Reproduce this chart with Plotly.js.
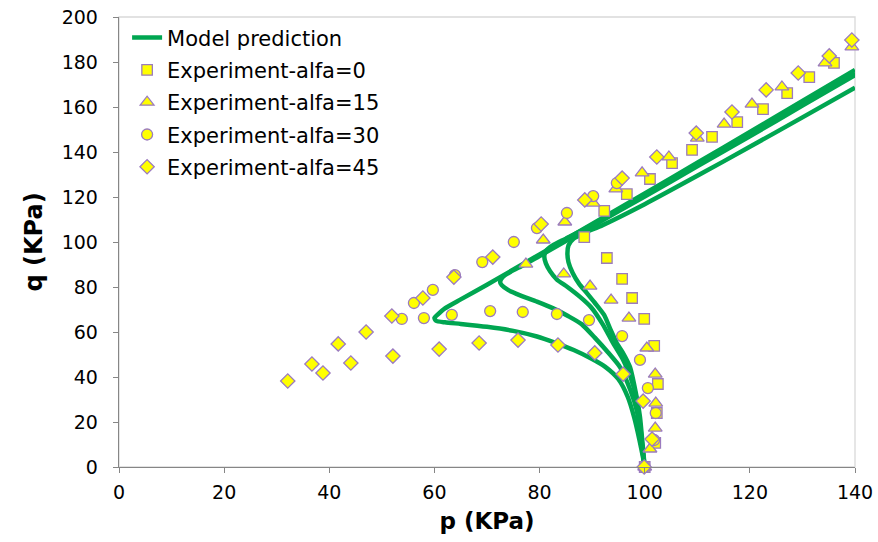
<!DOCTYPE html>
<html>
<head>
<meta charset="utf-8">
<script src="https://cdn.plot.ly/plotly-3.0.1.min.js"></script>
<style>html,body{margin:0;padding:0;background:#fff;}#chart{width:878px;height:542px;}</style>
</head>
<body>
<div id="chart"></div>
<script>
// ---- Model prediction curves (p, q in KPa) ----
const modelA_p = [100,99.7,99,98,96.8,95,92.5,90,86.5,83,79.5,75,70,65,62,60.3,60,60.5,62,65,70,80,90,100,110,120,130,140];
const modelA_q = [0,4,12,22,31,39,44.5,48,52,55.2,58,60.5,62.3,63.6,64.3,65,66.3,67.5,70.5,74.5,81,94.5,108,121.6,135.2,148.9,162.7,176.5];
const modelB_p = [100,99.7,99.2,98.5,97.3,95.3,93,90.5,88,85.5,82.6,79.5,76.3,74,72.8,72.5,73,74.5,77,80,90,100,110,120,130,140];
const modelB_q = [0,5,14,25,34,44.4,51,57.5,63.5,67,70.5,73.5,76.3,78.7,80.8,82.3,84.5,86.8,89.8,93.8,107,120.2,133.6,147,160.6,174.2];
const modelC_p = [100,99.7,99.2,98.5,97.3,95.9,94,92,89.8,87.7,85.3,83.3,82,81.2,80.9,81.2,82.5,85,90,100,110,120,130,140];
const modelC_q = [0,6,17,29.8,40,47.6,55,63.5,71,75.6,80,83.3,87,90.5,93.5,96,98.5,101.5,107.6,120.8,134.3,147.8,161.3,175];
const modelD_p = [100,99.6,99.1,98.3,97.2,95.8,94.7,93.5,92.3,90.5,89,87.5,86.3,85.5,85.3,85.5,86.5,88.5,92,100,110,120,130,140];
const modelD_q = [0,10,22.2,33,44.4,51,55,61,67.5,73,77.3,81.5,86.2,91,95,98.5,101.5,104,107.5,116.8,129.4,142.3,155.4,168.6];

// ---- Experiments ----
const alfa0_p = [100,102.0,102.3,102.5,101.8,99.9,97.6,95.7,92.8,88.5,92.3,96.6,101.0,105.2,109.0,112.8,117.6,122.5,127.1,131.3,136.0];
const alfa0_q = [0,10.7,24.0,36.9,53.8,65.8,75.1,83.6,92.9,102.2,113.8,121.3,128.0,135.1,140.9,146.7,153.3,159.1,166.2,173.3,179.6];
const alfa15_p = [100,101.0,102.0,102.1,102.0,100.4,97.0,93.6,89.6,84.6,77.4,80.7,84.8,90.2,94.5,99.5,104.6,110.0,115.1,120.4,126.1,134.3,139.4];
const alfa15_q = [0,8.0,17.3,28.4,41.3,52.9,66.2,74.2,80.4,85.8,90.2,100.9,108.9,117.3,123.6,130.7,137.8,146.2,152.4,161.3,168.9,179.6,186.7];
const alfa30_p = [100,101.8,102.1,100.6,99.1,95.7,89.4,83.3,76.8,70.6,63.3,58.0,53.8,56.1,59.7,63.9,69.1,75.1,79.5,85.2,90.2,94.7];
const alfa30_q = [0,12,24.0,35.1,47.6,58.2,65.3,68.0,68.9,69.3,67.6,66.2,65.8,72.9,78.7,85.3,91.1,100,106.2,112.9,120.4,126.2];
const alfa45_p = [99.9,101.4,99.7,95.9,90.5,83.5,75.9,68.5,60.9,52.1,44.1,38.8,32.1,36.7,41.7,47.0,51.9,57.8,63.7,71.1,80.3,88.6,95.7,102.3,109.8,116.6,123.1,129.2,135.1,139.4];
const alfa45_q = [0,12.4,29.3,41.3,50.7,54.2,56.4,55.1,52.4,49.3,46.2,41.8,38.2,45.8,54.7,60.0,67.1,75.1,84.4,93.3,108.0,118.7,128.4,137.8,148.4,157.8,167.6,175.1,182.7,189.8];

const seriesNames = ['Model prediction','Experiment-alfa=0','Experiment-alfa=15','Experiment-alfa=30','Experiment-alfa=45'];
const xTicks = [0,20,40,60,80,100,120,140];
const yTicks = [0,20,40,60,80,100,120,140,160,180,200];

const green = '#00a651';
const yellow = '#ffff00';
const outline = '#9b7bbf';

function modelTrace(p, q, show) {
  return {x: p, y: q, type: 'scatter', mode: 'lines', name: seriesNames[0],
    legendgroup: 'model', showlegend: show,
    line: {color: green, width: 4.5, shape: 'spline', smoothing: 0.6}, cliponaxis: false};
}
function expTrace(p, q, name, symbol, size) {
  return {x: p, y: q, type: 'scatter', mode: 'markers', name: name, legendgroup: name,
    marker: {symbol: symbol, size: size, color: yellow, line: {color: outline, width: 1.3}},
    cliponaxis: false};
}

const data = [
  modelTrace(modelA_p, modelA_q, true),
  modelTrace(modelB_p, modelB_q, false),
  modelTrace(modelC_p, modelC_q, false),
  modelTrace(modelD_p, modelD_q, false),
  expTrace(alfa0_p, alfa0_q, seriesNames[1], 'square', 10.5),
  expTrace(alfa15_p, alfa15_q, seriesNames[2], 'triangle-up', 12),
  expTrace(alfa30_p, alfa30_q, seriesNames[3], 'circle', 11),
  expTrace(alfa45_p, alfa45_q, seriesNames[4], 'diamond', 11)
];

const layout = {
  width: 878, height: 542,
  margin: {l: 119, r: 23, t: 17, b: 75},
  paper_bgcolor: '#ffffff', plot_bgcolor: '#ffffff',
  font: {family: 'DejaVu Sans, Arial, sans-serif', color: '#000', size: 19},
  showlegend: true,
  legend: {x: 0.011, y: 0.999, xanchor: 'left', yanchor: 'top', bgcolor: 'rgba(0,0,0,0)',
    font: {size: 21, color: '#000'}, tracegroupgap: 2, traceorder: 'grouped'},
  xaxis: {range: [0, 140], tickvals: xTicks, ticktext: xTicks.map(String), ticks: 'outside', ticklen: 5,
    tickcolor: '#868686', showline: true, linecolor: '#868686', linewidth: 1.3, showgrid: false, zeroline: false,
    ticklabelstandoff: 3, tickfont: {size: 19},
    title: {text: 'p (KPa)', font: {size: 23, family: 'DejaVu Sans, Arial, sans-serif', weight: 'bold'}, standoff: 10}},
  yaxis: {range: [0, 200], tickvals: yTicks, ticktext: yTicks.map(String), ticks: 'outside', ticklen: 5,
    tickcolor: '#868686', showline: true, linecolor: '#868686', linewidth: 1.3, showgrid: false, zeroline: false,
    ticklabelstandoff: 11, tickfont: {size: 19},
    title: {text: 'q (KPa)', font: {size: 24, family: 'DejaVu Sans, Arial, sans-serif', weight: 'bold'}, standoff: 12}},
  shapes: [{type: 'rect', xref: 'paper', yref: 'paper', x0: 0, x1: 1, y0: 0, y1: 1,
    line: {color: '#d9d9d9', width: 1.3}, layer: 'below'}]
};

Plotly.newPlot('chart', data, layout, {displayModeBar: false, staticPlot: true});
</script>
</body>
</html>
